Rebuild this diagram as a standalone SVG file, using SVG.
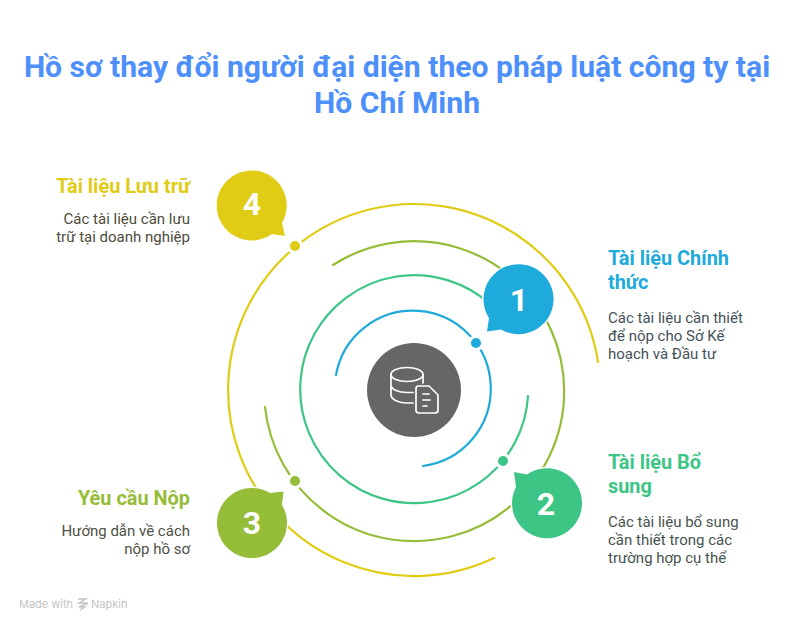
<svg xmlns="http://www.w3.org/2000/svg" width="798" height="629" viewBox="0 0 798 629">
<style>
text{font-family:Roboto,"Liberation Sans",sans-serif}
.title{font-size:30.100px;font-weight:700;fill:#4d8ffb;text-anchor:middle}
.head{font-size:19.900px;font-weight:700}
.body{font-size:15px}
.num{font-size:32px;font-weight:700;fill:#fff;text-anchor:middle}
.arc{fill:none;stroke-width:2.2;stroke-linecap:round}
.dot{stroke:#fff;stroke-width:3}
.badge{stroke:#fff;stroke-width:3;paint-order:stroke}
.icon{fill:none;stroke:#fff;stroke-width:1.7;stroke-linecap:round;stroke-linejoin:round}
.end{text-anchor:end}
</style>
<rect width="798" height="629" fill="#fff"/>
<text class="title" x="397" y="77">Hồ sơ thay đổi người đại diện theo pháp luật công ty tại</text>
<text class="title" x="397" y="113">Hồ Chí Minh</text>
<g id="connectors">
<path class="arc" stroke="#e0cc14" d="M598 362A186 186 0 1 0 494 558"/>
<path class="arc" stroke="#95bd38" d="M265 407A150 150 0 1 0 333 265"/>
<path class="arc" stroke="#3dc586" d="M528 396A114 114 0 1 1 490 304"/>
<path class="arc" stroke="#1eaadb" d="M423 466A78 78 0 1 0 336 375"/>
</g>
<g id="center">
<circle cx="414" cy="390" r="47" fill="#666"/>
<g class="icon">
<ellipse cx="407" cy="374.500" rx="16" ry="7"/>
<path d="M391 374.500V395C391 399.500 399 403 407 403H413M391 385C391 389.500 399 392.500 407 392.500H413M423 374.500V383"/>
<path d="M418.500 386H429L438 395V410Q438 413 435 413H419Q416 413 416 410V388.500Q416 386 418.500 386Z"/>
<path d="M423 394H429M423 400H430M423 406H427"/>
</g>
</g>
<g id="node1">
<path class="badge" fill="#1eaadb" d="M487 331.500L489 318A35 35 0 1 1 501 329.500Z"/>
<text class="num" x="519" y="311">1</text>
<circle class="dot" cx="476" cy="343" r="6.500" fill="#1eaadb"/>
<text class="head" x="608" y="265" fill="#1eaadb">Tài liệu Chính</text>
<text class="head" x="608" y="289" fill="#1eaadb">thức</text>
<g class="body" fill="#44525a">
<text x="608" y="323">Các tài liệu cần thiết</text>
<text x="608" y="341">để nộp cho Sở Kế</text>
<text x="608" y="359">hoạch và Đầu tư</text>
</g>
</g>
<g id="node2">
<path class="badge" fill="#3dc586" d="M514 472L527 474.500A35 35 0 1 1 516 487Z"/>
<text class="num" x="546" y="515">2</text>
<circle class="dot" cx="503" cy="461" r="6.500" fill="#3dc586"/>
<text class="head" x="608" y="469" fill="#3dc586">Tài liệu Bổ</text>
<text class="head" x="608" y="493" fill="#3dc586">sung</text>
<g class="body" fill="#46544e">
<text x="608" y="527">Các tài liệu bổ sung</text>
<text x="608" y="545">cần thiết trong các</text>
<text x="608" y="563">trường hợp cụ thể</text>
</g>
</g>
<g id="node3">
<path class="badge" fill="#95bd38" d="M283.500 491.500L282 505A35 35 0 1 1 270 493Z"/>
<text class="num" x="252" y="534">3</text>
<circle class="dot" cx="295" cy="481" r="6.500" fill="#95bd38"/>
<text class="head end" x="190" y="505" fill="#95bd38">Yêu cầu Nộp</text>
<g class="body end" fill="#4d5044">
<text x="190" y="536">Hướng dẫn về cách</text>
<text x="190" y="554">nộp hồ sơ</text>
</g>
</g>
<g id="node4">
<path class="badge" fill="#e0cc14" d="M285 236L272 234A35 35 0 1 1 282 223Z"/>
<text class="num" x="252" y="215">4</text>
<circle class="dot" cx="295" cy="246" r="6.500" fill="#e0cc14"/>
<text class="head end" x="190" y="193" fill="#e0cc14">Tài liệu Lưu trữ</text>
<g class="body end" fill="#4d4b3a">
<text x="190" y="224">Các tài liệu cần lưu</text>
<text x="190" y="242">trữ tại doanh nghiệp</text>
</g>
</g>
<text x="19" y="608" font-size="11" fill="#c4c4c4" style="font-family:Inter,sans-serif">Made with</text>
<path d="M78 599H86L79 603H88L79 607H85L80 610" fill="none" stroke="#c4c4c4" stroke-width="1.400"/>
<text x="91" y="608" font-size="11" fill="#c4c4c4" style="font-family:Inter,sans-serif">Napkin</text>
</svg>
